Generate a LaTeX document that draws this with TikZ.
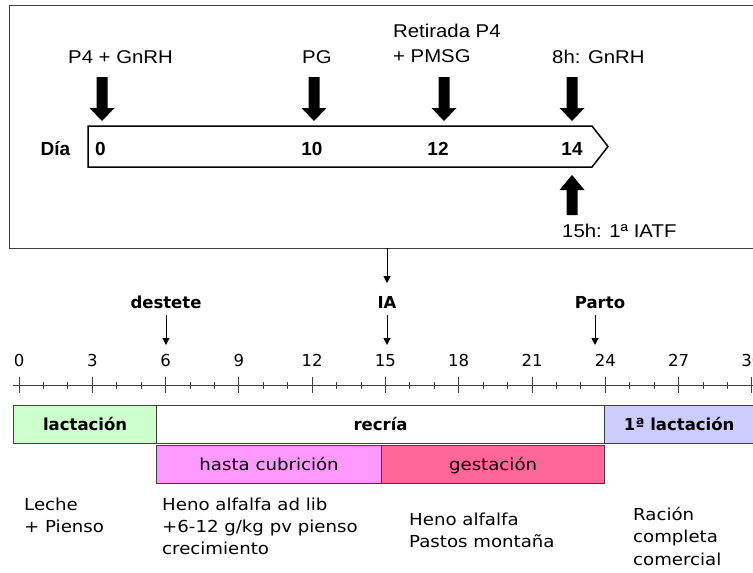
\documentclass[tikz,border=0pt]{standalone}
\usepackage{fontspec}
\setmainfont{Liberation Sans}
\newfontfamily\topfont[FakeStretch=1.1]{Liberation Sans}
\newfontfamily\botfont[FakeStretch=1.1]{DejaVu Sans}
\newfontfamily\botnum{DejaVu Sans}
\usetikzlibrary{arrows.meta}
\definecolor{lacgreen}{HTML}{CCFFCC}
\definecolor{laclav}{HTML}{CCCCFF}
\definecolor{hastapink}{HTML}{FF99FF}
\definecolor{gestpink}{HTML}{FF6699}
\definecolor{edgegray}{HTML}{404040}
\tikzset{
  toplbl/.style={font=\topfont\fontsize{18.5}{20}\selectfont, inner sep=0pt, anchor=base west},
  topbold/.style={font=\normalfont\bfseries\fontsize{19}{20}\selectfont, inner sep=0pt, anchor=base},
  botlbl/.style={font=\botfont\fontsize{16.5}{20}\selectfont, inner sep=0pt, anchor=base west},
  botbold/.style={font=\botnum\bfseries\fontsize{16.5}{20}\selectfont, inner sep=0pt, anchor=base},
  botnumst/.style={font=\botnum\fontsize{16.5}{20}\selectfont, inner sep=0pt, anchor=base},
  barbox/.style={draw=edgegray, line width=1.2pt, minimum height=38pt, inner sep=0pt,
    anchor=north west, text height=12pt, text depth=0pt},
  thinarrow/.style={line width=1pt, -{Triangle[length=7pt,width=7pt]}},
  fatdown/.pic={\fill[black] (-5.5,0) -- (5.5,0) -- (5.5,31) -- (12.5,31) -- (0,44) -- (-12.5,31) -- (-5.5,31) -- cycle;},
  fatup/.pic={\fill[black] (0,0) -- (12.5,15) -- (5.5,15) -- (5.5,40) -- (-5.5,40) -- (-5.5,15) -- (-12.5,15) -- cycle;}
}
\begin{document}
\begin{tikzpicture}[x=1pt,y=-1pt]
\useasboundingbox (0,0) rectangle (753,573);
% ---------- top panel ----------
\node[draw=edgegray, line width=1pt, minimum width=744pt, minimum height=243pt, inner sep=0pt, anchor=north west] (topbox) at (9,5) {};
\draw[line width=1.5pt] (88,126) -- (592,126) -- (608,146.5) -- (592,167) -- (88,167) -- cycle;
\node[topbold] (dia) at (55.5,155) {Día};
\node[topbold, anchor=base west] (d0) at (95,155) {0};
\node[topbold] (d10) at (312,155) {10};
\node[topbold] (d12) at (438,155) {12};
\node[topbold] (d14) at (572,155) {14};
\pic at (102,77) {fatdown};
\pic at (314,77) {fatdown};
\pic at (444,77) {fatdown};
\pic at (572,77) {fatdown};
\pic at (572,175) {fatup};
\node[toplbl] (p4) at (68,63) {P4 + GnRH};
\node[toplbl] (pg) at (302,63) {PG};
\node[toplbl] (ret) at (393,37) {Retirada P4};
\node[toplbl] (pmsg) at (393,62) {+ PMSG};
\node[toplbl] (gnrh) at (552,63) {8h: GnRH};
\node[toplbl] (iatf) at (562,237) {15h: 1ª IATF};
% ---------- events ----------
\node[botbold] (destete) at (166,308) {destete};
\node[botbold] (ia) at (387,308) {IA};
\node[botbold] (parto) at (600,308) {Parto};
\coordinate (iatop) at (387,248);
\coordinate (iamid) at (387,283);
\draw[thinarrow] (iatop) -- (iamid);
\coordinate (destA) at (166,315); \coordinate (destB) at (166,345);
\coordinate (iaA) at (387,315); \coordinate (iaB) at (387,345);
\coordinate (partA) at (595,315); \coordinate (partB) at (595,345);
\draw[thinarrow] (destA) -- (destB);
\draw[thinarrow] (iaA) -- (iaB);
\draw[thinarrow] (partA) -- (partB);
% ---------- axis ----------
\draw[edgegray, line width=1pt] (13,385) -- (753,385);
\foreach \m in {0,1,...,30}{
  \draw[edgegray, line width=1pt] ({19+24.43*\m},382) -- ({19+24.43*\m},389);
}
\foreach \m in {0,3,...,30}{
  \draw[edgegray, line width=1pt] ({19+24.43*\m},377) -- ({19+24.43*\m},393);
  \node[botnumst] (n\m) at ({19+24.43*\m},366) {\m};
}
% ---------- bars ----------
\node[barbox, fill=lacgreen, minimum width=143pt, font=\botnum\bfseries\fontsize{16.5}{20}\selectfont] (lac) at (13,405) {lactación};
\node[barbox, fill=white, minimum width=448pt, font=\botnum\bfseries\fontsize{16.5}{20}\selectfont] (recria) at (156,405) {recría};
\node[barbox, fill=laclav, minimum width=152pt, font=\botnum\bfseries\fontsize{16.5}{20}\selectfont] (lac1) at (604,405) {\hspace*{-3pt}1ª lactación};
\node[barbox, fill=hastapink, minimum width=225pt, font=\botfont\fontsize{16.5}{20}\selectfont] (hasta) at (156,445) {hasta cubrición};
\node[barbox, fill=gestpink, minimum width=223pt, font=\botfont\fontsize{16.5}{20}\selectfont] (gest) at (381,445) {gestación};
% ---------- feeding ----------
\node[botlbl] (t1a) at (24,510) {Leche};
\node[botlbl] (t1b) at (24,532) {+ Pienso};
\node[botlbl] (t2a) at (162,510) {Heno alfalfa ad lib};
\node[botlbl] (t2b) at (162,532) {+6-12 g/kg pv pienso};
\node[botlbl] (t2c) at (162,554) {crecimiento};
\node[botlbl] (t3a) at (409,525) {Heno alfalfa};
\node[botlbl] (t3b) at (409,547) {Pastos montaña};
\node[botlbl] (t4a) at (633,520) {Ración};
\node[botlbl] (t4b) at (633,542) {completa};
\node[botlbl] (t4c) at (633,565) {comercial};
\end{tikzpicture}
\end{document}
